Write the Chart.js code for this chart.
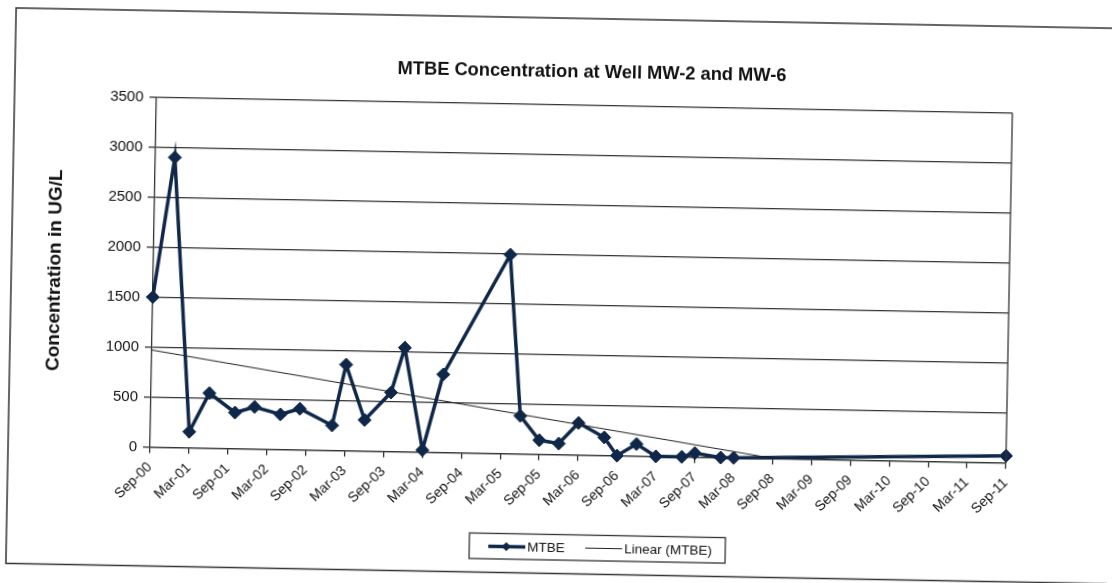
<!DOCTYPE html>
<html>
<head>
<meta charset="utf-8">
<title>MTBE Concentration at Well MW-2 and MW-6</title>
<script src="https://cdn.jsdelivr.net/npm/chart.js@4.4.1/dist/chart.umd.min.js"></script>
<style>
  html, body { margin: 0; padding: 0; background: #fff; overflow: hidden; }
  #wrap { width: 1112px; height: 583px; transform: rotate(1.06deg); transform-origin: 556px 291.5px; }
  canvas { display: block; }
</style>
</head>
<body>
<div id="wrap"><canvas id="mtbeChart" width="1112" height="583"></canvas></div>
<script>
// sampling dates (year-month) and MTBE results in ug/L
const sampleDates = [
  "2000-09", "2000-12", "2001-03", "2001-06", "2001-10", "2002-01", "2002-05", "2002-08",
  "2003-01", "2003-03", "2003-06", "2003-10", "2003-12", "2004-03", "2004-06", "2005-04",
  "2005-06", "2005-09", "2005-12", "2006-03", "2006-07", "2006-09", "2006-12", "2007-03",
  "2007-07", "2007-09", "2008-01", "2008-03", "2011-09"
];
const mtbeValues = [
  1500, 2900, 160, 550, 360, 420, 350, 410,
  250, 860, 310, 590, 1040, 20, 780, 1990,
  380, 140, 110, 320, 180, 0, 120, 0,
  0, 40, 0, 0, 70
];
const xTickLabels = [
  "Sep-00", "Mar-01", "Sep-01", "Mar-02", "Sep-02", "Mar-03", "Sep-03", "Mar-04",
  "Sep-04", "Mar-05", "Sep-05", "Mar-06", "Sep-06", "Mar-07", "Sep-07", "Mar-08",
  "Sep-08", "Mar-09", "Sep-09", "Mar-10", "Sep-10", "Mar-11", "Sep-11"
];

const navy = "#0f2748";
const ink = "#111";

// months counted from Sep-00
function monthIndex(d) {
  const parts = d.split("-");
  return (parseInt(parts[0], 10) - 2000) * 12 + parseInt(parts[1], 10) - 9;
}

const mtbePoints = sampleDates.map((d, i) => ({ x: monthIndex(d), y: mtbeValues[i] }));

// least squares trend, same as Excel "Linear" trendline
function linearFit(pts) {
  const n = pts.length;
  let sx = 0, sy = 0, sxy = 0, sxx = 0;
  pts.forEach(p => { sx += p.x; sy += p.y; sxy += p.x * p.y; sxx += p.x * p.x; });
  const slope = (n * sxy - sx * sy) / (n * sxx - sx * sx);
  return { slope: slope, icpt: (sy - slope * sx) / n };
}
const fit = linearFit(mtbePoints);
const firstX = mtbePoints[0].x;
const lastX = mtbePoints[mtbePoints.length - 1].x;
const trendPoints = [
  { x: firstX, y: fit.icpt + fit.slope * firstX },
  { x: lastX, y: fit.icpt + fit.slope * lastX }
];

// frame, title and boxed legend like the spreadsheet chart
const sheetDecor = {
  id: "sheetDecor",
  beforeDraw(chart) {
    const c = chart.ctx;
    c.save();
    c.fillStyle = "#fff";
    c.fillRect(0, 0, chart.width, chart.height);
    c.restore();
  },
  afterDraw(chart) {
    const c = chart.ctx;
    const a = chart.chartArea;
    c.save();
    // outer chart frame
    c.strokeStyle = "#333";
    c.lineWidth = 1.5;
    c.strokeRect(11, 18, 1120, 555.5);
    // plot area border (right side)
    c.lineWidth = 1.3;
    c.beginPath();
    c.moveTo(a.right, a.top);
    c.lineTo(a.right, a.bottom);
    c.stroke();

    // title
    c.fillStyle = ink;
    c.font = "bold 18.3px 'Liberation Sans', Arial, sans-serif";
    c.textAlign = "center";
    c.textBaseline = "middle";
    c.fillText("MTBE Concentration at Well MW-2 and MW-6", 588, 72);

    // legend box
    c.lineWidth = 1.3;
    c.strokeStyle = "#333";
    c.strokeRect(474, 534.5, 256, 25.5);
    const ly = 547.5;
    c.strokeStyle = navy;
    c.lineWidth = 3.5;
    c.beginPath();
    c.moveTo(493, ly);
    c.lineTo(530, ly);
    c.stroke();
    c.fillStyle = navy;
    c.beginPath();
    c.moveTo(511, ly - 4.5);
    c.lineTo(515.5, ly);
    c.lineTo(511, ly + 4.5);
    c.lineTo(506.5, ly);
    c.closePath();
    c.fill();
    c.strokeStyle = "#222";
    c.lineWidth = 1;
    c.beginPath();
    c.moveTo(590, ly);
    c.lineTo(627, ly);
    c.stroke();
    c.fillStyle = ink;
    c.font = "13.5px 'Liberation Sans', Arial, sans-serif";
    c.textAlign = "left";
    c.fillText(chart.data.datasets[0].label, 532, ly + 0.5);
    c.fillText(chart.data.datasets[1].label, 629, ly + 0.5);
    c.restore();
  }
};

Chart.defaults.font.family = "'Liberation Sans', Arial, sans-serif";
Chart.defaults.color = ink;

const ctx = document.getElementById("mtbeChart").getContext("2d");
new Chart(ctx, {
  type: "line",
  data: {
    datasets: [{
      label: "MTBE",
      data: mtbePoints,
      borderColor: navy,
      backgroundColor: navy,
      borderWidth: 3.5,
      pointStyle: "rectRot",
      pointRadius: 6.5,
      pointBorderWidth: 1,
      pointBackgroundColor: navy,
      pointBorderColor: navy,
      tension: 0,
      clip: false,
      order: 1
    }, {
      label: "Linear (MTBE)",
      data: trendPoints,
      borderColor: "#222",
      borderWidth: 1,
      pointRadius: 0,
      tension: 0,
      order: 0
    }]
  },
  options: {
    responsive: false,
    animation: false,
    events: [],
    layout: { padding: { top: 104.5, right: 103, left: 0, bottom: 0 } },
    scales: {
      x: {
        type: "linear",
        min: 0,
        max: 132,
        afterFit: function (scale) { scale.height = 128.5; },
        ticks: {
          stepSize: 6,
          autoSkip: false,
          minRotation: 45,
          maxRotation: 45,
          padding: 6,
          font: { size: 14 },
          color: ink,
          callback: function (value) {
            return xTickLabels[Math.round(value / 6)];
          }
        },
        grid: { drawOnChartArea: false, drawTicks: true, tickLength: 6, color: "#333", lineWidth: 1.3 },
        border: { color: "#333", width: 1.3 }
      },
      y: {
        min: 0,
        max: 3500,
        afterFit: function (scale) { scale.width = 153; },
        ticks: {
          stepSize: 500,
          font: { size: 15 },
          color: ink,
          padding: 6,
          callback: function (value) { return String(value); }
        },
        grid: { color: "#333", lineWidth: 1.3, tickLength: 7 },
        border: { color: "#333", width: 1.3 },
        title: {
          display: true,
          text: "Concentration in UG/L",
          font: { size: 19, weight: "bold" },
          color: ink,
          padding: { top: 43, bottom: 0 }
        }
      }
    },
    plugins: {
      legend: { display: false },
      tooltip: { enabled: false },
      title: { display: false }
    }
  },
  plugins: [sheetDecor]
});
</script>
</body>
</html>
